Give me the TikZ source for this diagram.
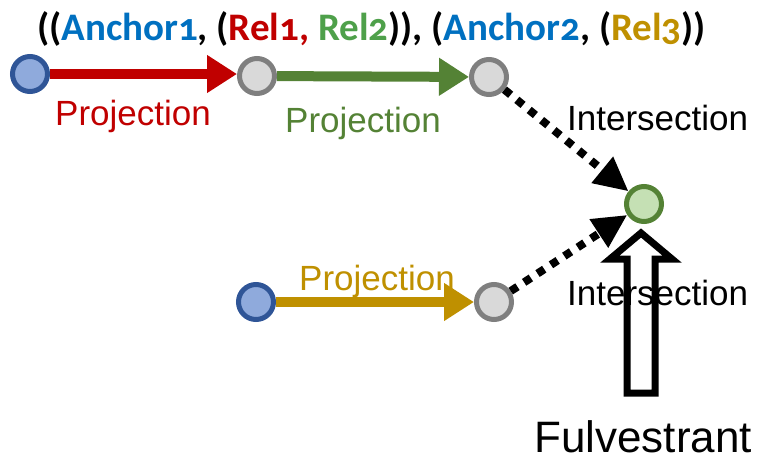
\documentclass[tikz,border=0pt]{standalone}
\usepackage{fontspec}
\setmainfont{Liberation Sans}
\newfontfamily\titlefont[Numbers=OldStyle]{Carlito}
\usetikzlibrary{arrows.meta}
\definecolor{nblue}{HTML}{8FAADC}
\definecolor{nblueD}{HTML}{2F5597}
\definecolor{ngray}{HTML}{D9D9D9}
\definecolor{ngrayD}{HTML}{7F7F7F}
\definecolor{ngreen}{HTML}{C5E0B4}
\definecolor{ngreenD}{HTML}{548235}
\definecolor{cred}{HTML}{C00000}
\definecolor{cgreen}{HTML}{548235}
\definecolor{cgold}{HTML}{BF9000}
\definecolor{tblue}{HTML}{0070C0}
\definecolor{tgreen}{HTML}{4EA04A}
\begin{document}
\begin{tikzpicture}[x=1pt,y=-1pt,
  ent/.style={circle,minimum size=35pt,inner sep=0pt,line width=5pt},
  anchorent/.style={ent,draw=nblueD,fill=nblue},
  varent/.style={ent,draw=ngrayD,fill=ngray},
  targetent/.style={ent,draw=ngreenD,fill=ngreen},
  proj/.style={line width=10pt,-{Triangle[length=30pt,width=36pt]}},
  inter/.style={line width=8pt,dash pattern=on 8pt off 8pt,-{Triangle[length=34pt,width=32pt]}},
  lbl/.style={anchor=base west,inner sep=0pt,font=\fontsize{35}{42}\selectfont},
]
\useasboundingbox (0,0) rectangle (773,459);

% title
\node[anchor=base west,inner sep=0pt,font=\titlefont\bfseries\fontsize{39}{46}\selectfont] (title) at (37,40)
 {((\textcolor{tblue}{Anchor1}, (\textcolor{cred}{Rel1,} \textcolor{tgreen}{Rel2})), (\textcolor{tblue}{Anchor2}, (\textcolor{cgold}{Rel3}))};

% nodes
\node[anchorent] (a1) at (30,74) {};
\node[varent] (v1) at (257,76) {};
\node[varent] (v2) at (489,77) {};
\node[targetent] (t) at (644,204) {};
\node[anchorent] (a2) at (256,302) {};
\node[varent] (v3) at (494,302) {};

% edges
\draw[proj,cred] (a1.east) -- (a1.east -| v1.west);
\draw[proj,cgreen] (v1) -- (v2);
\draw[proj,cgold] (a2) -- (v3);
\draw[inter] (v2) -- (t);
\draw[inter] (v3) -- (t);

% hollow arrow
\draw[line width=7pt,fill=white,line join=miter] (641,233) -- (672,259) -- (655,259) -- (655,393) -- (627,393) -- (627,259) -- (610,259) -- cycle;

% labels
\node[lbl,text=cred] (p1) at (55,125) {Projection};
\node[lbl,text=cgreen] (p2) at (285,132) {Projection};
\node[lbl,text=cgold] (p3) at (299,290) {Projection};
\node[lbl] (i1) at (567,130) {Intersection};
\node[lbl] (i2) at (567,305) {Intersection};
\node[anchor=base west,inner sep=0pt,font=\fontsize{44}{52}\selectfont] (drug) at (534,452) {Fulvestrant};
\end{tikzpicture}
\end{document}
